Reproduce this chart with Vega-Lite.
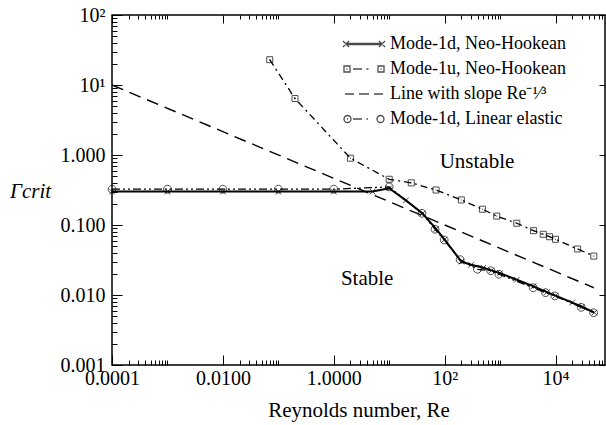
{
  "$schema": "https://vega.github.io/schema/vega-lite/v6.json",
  "width": 493,
  "height": 350,
  "autosize": {"type": "none"},
  "padding": {"left": 112, "top": 15, "right": 1, "bottom": 60},
  "background": "white",
  "config": {
    "font": "Liberation Serif",
    "view": {"stroke": "black", "strokeWidth": 1.5},
    "axis": {"grid": false, "domain": false, "tickColor": "black", "tickWidth": 1, "labelColor": "black", "titleColor": "black", "labelFont": "Liberation Serif", "titleFont": "Liberation Serif", "labelFontSize": 20, "titleFontSize": 21, "titleFontWeight": "normal", "labelFlush": false, "labelOverlap": false, "labelBound": false},
    "legend": {"labelFont": "Liberation Serif", "labelLimit": 400},
    "text": {"font": "Liberation Serif"}
  },
  "datasets": {
    "curves": [
      {"series": "Mode-1d, Neo-Hookean", "Re": 0.0001, "G": 0.30},
      {"series": "Mode-1d, Neo-Hookean", "Re": 0.001, "G": 0.30},
      {"series": "Mode-1d, Neo-Hookean", "Re": 0.01, "G": 0.30},
      {"series": "Mode-1d, Neo-Hookean", "Re": 0.1, "G": 0.30},
      {"series": "Mode-1d, Neo-Hookean", "Re": 1, "G": 0.30},
      {"series": "Mode-1d, Neo-Hookean", "Re": 5, "G": 0.30},
      {"series": "Mode-1d, Neo-Hookean", "Re": 10, "G": 0.335},
      {"series": "Mode-1d, Neo-Hookean", "Re": 20, "G": 0.225},
      {"series": "Mode-1d, Neo-Hookean", "Re": 40, "G": 0.146},
      {"series": "Mode-1d, Neo-Hookean", "Re": 70, "G": 0.088},
      {"series": "Mode-1d, Neo-Hookean", "Re": 100, "G": 0.062},
      {"series": "Mode-1d, Neo-Hookean", "Re": 200, "G": 0.030},
      {"series": "Mode-1d, Neo-Hookean", "Re": 300, "G": 0.027},
      {"series": "Mode-1d, Neo-Hookean", "Re": 500, "G": 0.0245},
      {"series": "Mode-1d, Neo-Hookean", "Re": 700, "G": 0.0225},
      {"series": "Mode-1d, Neo-Hookean", "Re": 1000, "G": 0.0205},
      {"series": "Mode-1d, Neo-Hookean", "Re": 2000, "G": 0.0165},
      {"series": "Mode-1d, Neo-Hookean", "Re": 4000, "G": 0.0133},
      {"series": "Mode-1d, Neo-Hookean", "Re": 7000, "G": 0.011},
      {"series": "Mode-1d, Neo-Hookean", "Re": 10000, "G": 0.0098},
      {"series": "Mode-1d, Neo-Hookean", "Re": 20000, "G": 0.0078},
      {"series": "Mode-1d, Neo-Hookean", "Re": 30000, "G": 0.0068},
      {"series": "Mode-1d, Neo-Hookean", "Re": 50000, "G": 0.0056},
      {"series": "Mode-1u, Neo-Hookean", "Re": 0.07, "G": 23},
      {"series": "Mode-1u, Neo-Hookean", "Re": 0.2, "G": 6.4},
      {"series": "Mode-1u, Neo-Hookean", "Re": 2, "G": 0.9},
      {"series": "Mode-1u, Neo-Hookean", "Re": 10, "G": 0.45},
      {"series": "Mode-1u, Neo-Hookean", "Re": 25, "G": 0.40},
      {"series": "Mode-1u, Neo-Hookean", "Re": 70, "G": 0.316},
      {"series": "Mode-1u, Neo-Hookean", "Re": 200, "G": 0.228},
      {"series": "Mode-1u, Neo-Hookean", "Re": 480, "G": 0.168},
      {"series": "Mode-1u, Neo-Hookean", "Re": 870, "G": 0.134},
      {"series": "Mode-1u, Neo-Hookean", "Re": 2000, "G": 0.106},
      {"series": "Mode-1u, Neo-Hookean", "Re": 4000, "G": 0.083},
      {"series": "Mode-1u, Neo-Hookean", "Re": 6000, "G": 0.0737},
      {"series": "Mode-1u, Neo-Hookean", "Re": 7800, "G": 0.068},
      {"series": "Mode-1u, Neo-Hookean", "Re": 10000, "G": 0.0625},
      {"series": "Mode-1u, Neo-Hookean", "Re": 25000, "G": 0.0454},
      {"series": "Mode-1u, Neo-Hookean", "Re": 49000, "G": 0.036},
      {"series": "Line with slope Re⁻¹⁄³", "Re": 0.0001, "G": 10},
      {"series": "Line with slope Re⁻¹⁄³", "Re": 49000, "G": 0.0127},
      {"series": "Mode-1d, Linear elastic", "Re": 0.0001, "G": 0.325},
      {"series": "Mode-1d, Linear elastic", "Re": 0.001, "G": 0.325},
      {"series": "Mode-1d, Linear elastic", "Re": 0.01, "G": 0.325},
      {"series": "Mode-1d, Linear elastic", "Re": 0.1, "G": 0.325},
      {"series": "Mode-1d, Linear elastic", "Re": 1, "G": 0.325},
      {"series": "Mode-1d, Linear elastic", "Re": 10, "G": 0.35},
      {"series": "Mode-1d, Linear elastic", "Re": 39, "G": 0.147},
      {"series": "Mode-1d, Linear elastic", "Re": 67, "G": 0.087},
      {"series": "Mode-1d, Linear elastic", "Re": 98, "G": 0.061},
      {"series": "Mode-1d, Linear elastic", "Re": 190, "G": 0.032},
      {"series": "Mode-1d, Linear elastic", "Re": 390, "G": 0.0233},
      {"series": "Mode-1d, Linear elastic", "Re": 680, "G": 0.0222},
      {"series": "Mode-1d, Linear elastic", "Re": 950, "G": 0.0198},
      {"series": "Mode-1d, Linear elastic", "Re": 3950, "G": 0.0127},
      {"series": "Mode-1d, Linear elastic", "Re": 6600, "G": 0.0108},
      {"series": "Mode-1d, Linear elastic", "Re": 9700, "G": 0.0097},
      {"series": "Mode-1d, Linear elastic", "Re": 29000, "G": 0.00667},
      {"series": "Mode-1d, Linear elastic", "Re": 48600, "G": 0.00558}
    ],
    "notes": [
      {"label": "Unstable", "Re": 383, "G": 0.794},
      {"label": "Stable", "Re": 4, "G": 0.0169}
    ]
  },
  "resolve": {"axis": {"x": "independent", "y": "independent"}},
  "layer": [
    {
      "data": {"name": "curves"},
      "transform": [{"filter": "datum.series === 'Line with slope Re⁻¹⁄³'"}],
      "mark": {"type": "line", "color": "black", "strokeWidth": 1.4, "strokeDash": [12, 7]},
      "encoding": {
        "x": {"field": "Re", "type": "quantitative", "scale": {"type": "log", "domain": [0.0001, 78000], "nice": false},
          "axis": {"orient": "bottom", "values": [0.0001, 0.01, 1, 100, 10000], "tickSize": -10, "labelPadding": 13,
            "labelFont": "Liberation Serif", "titleFont": "Liberation Serif",
            "labelExpr": "datum.value >= 100 ? (datum.value == 100 ? '10²' : '10⁴') : format(datum.value, '.4f')",
            "title": "Reynolds number, Re", "titleY": 45, "titleBaseline": "middle"}},
        "y": {"field": "G", "type": "quantitative", "scale": {"type": "log", "domain": [0.001, 100], "nice": false},
          "axis": {"orient": "left", "values": [0.001, 0.01, 0.1, 1, 10, 100], "tickSize": -10, "labelPadding": 17,
            "labelFont": "Liberation Serif", "titleFont": "Liberation Serif",
            "labelExpr": "datum.value >= 10 ? (datum.value == 10 ? '10¹' : '10²') : format(datum.value, '.3f')",
            "title": "Γcrit", "titleAngle": 0, "titleFontStyle": "italic", "titleX": -82, "titleY": 176, "titleAlign": "center", "titleBaseline": "middle"}}
      }
    },
    {
      "data": {"name": "curves"},
      "transform": [{"filter": "datum.series === 'Mode-1d, Neo-Hookean'"}],
      "mark": {"type": "line", "color": "black", "strokeWidth": 2},
      "encoding": {
        "x": {"field": "Re", "type": "quantitative", "scale": {"type": "log", "domain": [0.0001, 78000], "nice": false},
          "axis": {"orient": "bottom", "values": [0.0002, 0.0003, 0.0004, 0.0005, 0.0006, 0.0007, 0.0008, 0.0009, 0.001, 0.02, 0.03, 0.04, 0.05, 0.06, 0.07, 0.08, 0.09, 0.1, 2, 3, 4, 5, 6, 7, 8, 9, 10, 200, 300, 400, 500, 600, 700, 800, 900, 1000, 20000, 30000, 40000, 50000, 60000, 70000], "tickSize": -5, "labels": false, "title": null}},
        "y": {"field": "G", "type": "quantitative", "scale": {"type": "log", "domain": [0.001, 100], "nice": false},
          "axis": {"orient": "left", "values": [0.002, 0.003, 0.004, 0.005, 0.006, 0.007, 0.008, 0.009, 0.02, 0.03, 0.04, 0.05, 0.06, 0.07, 0.08, 0.09, 0.2, 0.3, 0.4, 0.5, 0.6, 0.7, 0.8, 0.9, 2, 3, 4, 5, 6, 7, 8, 9, 20, 30, 40, 50, 60, 70, 80, 90], "tickSize": -5, "labels": false, "title": null}}
      }
    },
    {
      "data": {"name": "curves"},
      "transform": [{"filter": "datum.series === 'Mode-1u, Neo-Hookean'"}],
      "mark": {"type": "line", "color": "black", "strokeWidth": 1.3, "strokeDash": [7, 4, 2, 4]},
      "encoding": {
        "x": {"field": "Re", "type": "quantitative", "scale": {"type": "log", "domain": [0.0001, 78000], "nice": false},
          "axis": {"orient": "top", "values": [0.0001, 0.01, 1, 100, 10000], "tickSize": -8, "labels": false, "title": null}},
        "y": {"field": "G", "type": "quantitative", "scale": {"type": "log", "domain": [0.001, 100], "nice": false},
          "axis": {"orient": "right", "values": [0.001, 0.01, 0.1, 1, 10, 100], "tickSize": -6, "labels": false, "title": null}}
      }
    },
    {
      "data": {"name": "curves"},
      "transform": [{"filter": "datum.series === 'Mode-1d, Linear elastic'"}],
      "mark": {"type": "line", "color": "black", "strokeWidth": 1.3, "strokeDash": [8, 3, 2, 3, 2, 3]},
      "encoding": {
        "x": {"field": "Re", "type": "quantitative", "scale": {"type": "log", "domain": [0.0001, 78000], "nice": false},
          "axis": {"orient": "top", "values": [0.0002, 0.0003, 0.0004, 0.0005, 0.0006, 0.0007, 0.0008, 0.0009, 0.001, 0.02, 0.03, 0.04, 0.05, 0.06, 0.07, 0.08, 0.09, 0.1, 2, 3, 4, 5, 6, 7, 8, 9, 10, 200, 300, 400, 500, 600, 700, 800, 900, 1000, 20000, 30000, 40000, 50000, 60000, 70000], "tickSize": -4, "labels": false, "title": null}},
        "y": {"field": "G", "type": "quantitative", "scale": {"type": "log", "domain": [0.001, 100], "nice": false}, "axis": null}
      }
    },
    {
      "data": {"name": "curves"},
      "transform": [{"filter": "datum.series === 'Mode-1d, Neo-Hookean'"}],
      "mark": {"type": "point", "color": "black", "filled": false, "size": 50, "strokeWidth": 1, "shape": "M-0.8,-0.8L0.8,0.8M-0.8,0.8L0.8,-0.8"},
      "encoding": {
        "x": {"field": "Re", "type": "quantitative", "scale": {"type": "log", "domain": [0.0001, 78000], "nice": false}, "axis": null},
        "y": {"field": "G", "type": "quantitative", "scale": {"type": "log", "domain": [0.001, 100], "nice": false}, "axis": null}
      }
    },
    {
      "data": {"name": "curves"},
      "transform": [{"filter": "datum.series === 'Mode-1u, Neo-Hookean'"}],
      "mark": {"type": "point", "color": "black", "filled": false, "size": 50, "strokeWidth": 1, "shape": "M-0.85,-0.85H0.85V0.85H-0.85Z M-0.15,0H0.15"},
      "encoding": {
        "x": {"field": "Re", "type": "quantitative", "scale": {"type": "log", "domain": [0.0001, 78000], "nice": false}, "axis": null},
        "y": {"field": "G", "type": "quantitative", "scale": {"type": "log", "domain": [0.001, 100], "nice": false}, "axis": null}
      }
    },
    {
      "data": {"name": "curves"},
      "transform": [{"filter": "datum.series === 'Mode-1d, Linear elastic'"}],
      "mark": {"type": "point", "color": "black", "filled": false, "size": 50, "strokeWidth": 1, "shape": "M-1.1,0A1.1,1.1 0 1,1 1.1,0A1.1,1.1 0 1,1 -1.1,0Z"},
      "encoding": {
        "x": {"field": "Re", "type": "quantitative", "scale": {"type": "log", "domain": [0.0001, 78000], "nice": false}, "axis": null},
        "y": {"field": "G", "type": "quantitative", "scale": {"type": "log", "domain": [0.001, 100], "nice": false}, "axis": null}
      }
    },
    {
      "data": {"name": "curves"},
      "transform": [{"filter": "datum.series === 'no such series'"}],
      "mark": {"type": "point", "color": "black", "filled": false, "strokeWidth": 1.3},
      "encoding": {
        "x": {"field": "Re", "type": "quantitative", "scale": {"type": "log", "domain": [0.0001, 78000], "nice": false}, "axis": null},
        "y": {"field": "G", "type": "quantitative", "scale": {"type": "log", "domain": [0.001, 100], "nice": false}, "axis": null},
        "shape": {"field": "series", "type": "nominal",
          "scale": {"domain": ["Mode-1d, Neo-Hookean", "Mode-1u, Neo-Hookean", "Line with slope Re⁻¹⁄³", "Mode-1d, Linear elastic"],
            "range": [
              "M-1.8,-0.07H1.8M-1.8,0.07H1.8M-2.1,-0.3L-1.5,0.3M-2.1,0.3L-1.5,-0.3M1.5,-0.3L2.1,0.3M1.5,0.3L2.1,-0.3",
              "M-2,-0.3H-1.4V0.3H-2Z M-1.75,0H-1.65 M-1.1,0H-0.2 M0.25,0H0.45 M1.4,-0.3H2V0.3H1.4Z M1.65,0H1.75",
              "M-1.9,0H-1 M-0.5,0H0.5 M1,0H1.9",
              "M-2,0A0.35,0.35 0 1,1 -1.3,0A0.35,0.35 0 1,1 -2,0Z M-1.7,0H-1.6 M-1.1,0H-0.2 M0.25,0H0.4 M1.3,0A0.35,0.35 0 1,1 2,0A0.35,0.35 0 1,1 1.3,0Z"
            ]},
          "legend": {"orient": "none", "legendX": 241, "legendY": 18, "title": null, "padding": 0, "symbolSize": 400, "symbolStrokeWidth": 1.3, "labelFont": "Liberation Serif", "labelFontSize": 18, "labelColor": "black", "labelLimit": 400, "labelOffset": 15, "rowPadding": 5, "symbolStrokeColor": "black", "symbolFillColor": "transparent"}
        }
      }
    },
    {
      "data": {"name": "notes"},
      "mark": {"type": "text", "font": "Liberation Serif", "fontSize": 21, "color": "black", "align": "center", "baseline": "middle"},
      "encoding": {
        "x": {"field": "Re", "type": "quantitative", "scale": {"type": "log", "domain": [0.0001, 78000], "nice": false}, "axis": null},
        "y": {"field": "G", "type": "quantitative", "scale": {"type": "log", "domain": [0.001, 100], "nice": false}, "axis": null},
        "text": {"field": "label", "type": "nominal"}
      }
    }
  ]
}
